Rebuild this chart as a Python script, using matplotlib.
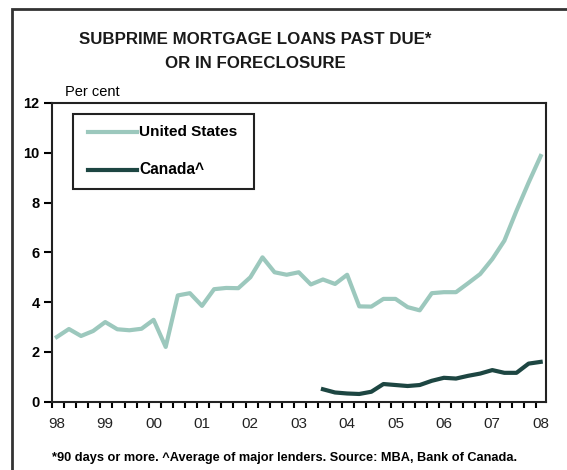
import matplotlib.pyplot as plt
from matplotlib.patches import Rectangle

plt.rcParams['font.family'] = ['Liberation Sans', 'DejaVu Sans']

# quarterly data, 1998Q1 .. 2008Q1
start_year = 1998
us_values = [2.6, 2.92, 2.64, 2.84, 3.2, 2.91, 2.87, 2.93, 3.29, 2.2,
             4.27, 4.36, 3.85, 4.52, 4.57, 4.56, 5.0, 5.8, 5.2, 5.1,
             5.2, 4.71, 4.91, 4.73, 5.1, 3.83, 3.82, 4.13, 4.13, 3.8,
             3.67, 4.36, 4.4, 4.4, 4.76, 5.13, 5.73, 6.47, 7.67, 8.8, 9.87]
# Canada starts in 2003Q3
canada_start = 22
canada_values = [0.5, 0.37, 0.33, 0.31, 0.4, 0.71, 0.67, 0.63, 0.67, 0.84,
                 0.96, 0.93, 1.04, 1.13, 1.27, 1.16, 1.16, 1.53, 1.6]
year_labels = ['98', '99', '00', '01', '02', '03', '04', '05', '06', '07', '08']

us_x = [start_year + i / 4 for i in range(len(us_values))]
ca_x = [start_year + (canada_start + i) / 4 for i in range(len(canada_values))]

W, H = 567, 470
fig = plt.figure(figsize=(W / 100, H / 100), dpi=100)
ax = fig.add_axes([52 / W, (H - 401.7) / H, (546 - 52) / W, (401.7 - 103) / H])

us_color = '#9cc8bd'
ca_color = '#1d4642'
ax.plot(us_x, us_values, color=us_color, lw=3.0, solid_joinstyle='round')
ax.plot(ca_x, canada_values, color=ca_color, lw=3.0, solid_joinstyle='round')

ax.set_xlim(1997.9, 2008.11)
ax.set_ylim(0, 12)
ax.set_yticks(range(0, 13, 2))
ax.set_xticks([1997.9 + k / 4 for k in range(41)])
ax.set_xticklabels([])
ax.tick_params(axis='y', direction='out', length=6, width=1.5, labelsize=10.5, pad=3)
for lab in ax.get_yticklabels():
    lab.set_fontweight('bold')
ax.tick_params(axis='x', direction='out', length=4, width=1.5, pad=3)
for s in ax.spines.values():
    s.set_linewidth(1.5)
    s.set_color('#222222')

for k, lab in enumerate(year_labels):
    ax.text(start_year + k, -0.88, lab, ha='center', va='center', fontsize=11,
            color='#222222', clip_on=False)

renderer = fig.canvas.get_renderer()


def fit_text(x_px, y_px, s, width_px, ha='left', **kw):
    # put a text in pixel coords and scale the font so it spans width_px
    t = fig.text(x_px / W, 1 - y_px / H, s, ha=ha, va='center', fontsize=10, **kw)
    w = t.get_window_extent(renderer).width
    t.set_fontsize(10 * width_px / w)
    return t


fit_text(65, 92, 'Per cent', 55)

# legend box
fig.patches.append(Rectangle((73 / W, 1 - 189 / H), (254 - 73) / W, (189 - 114) / H,
                             transform=fig.transFigure, fill=False,
                             lw=1.5, ec='#222222'))
fig.add_artist(plt.Line2D([88 / W, 137 / W], [1 - 132 / H] * 2, color=us_color,
                          lw=3.0, transform=fig.transFigure))
fig.add_artist(plt.Line2D([88 / W, 137 / W], [1 - 170 / H] * 2, color=ca_color,
                          lw=3.0, transform=fig.transFigure))
fit_text(139, 132, 'United States', 99, fontweight='bold')
fit_text(139, 170, 'Canada^', 65, fontweight='bold')

# outer frame
fig.patches.append(Rectangle((12 / W, -0.05), 1.1, 1 - 9 / H + 0.05,
                             transform=fig.transFigure, fill=False,
                             lw=2, ec='#333333'))

title1 = fit_text(255, 40, 'SUBPRIME MORTGAGE LOANS PAST DUE*', 352, ha='center',
                  fontweight='bold', color='#1a1a1a')
fig.text(255 / W, 1 - 64 / H, 'OR IN FORECLOSURE', ha='center', va='center',
         fontsize=title1.get_fontsize(), fontweight='bold', color='#1a1a1a')

fit_text(52, 458,
         '*90 days or more. ^Average of major lenders. Source: MBA, Bank of Canada.',
         464, fontweight='bold')

fig.savefig('out.png', dpi=100)
